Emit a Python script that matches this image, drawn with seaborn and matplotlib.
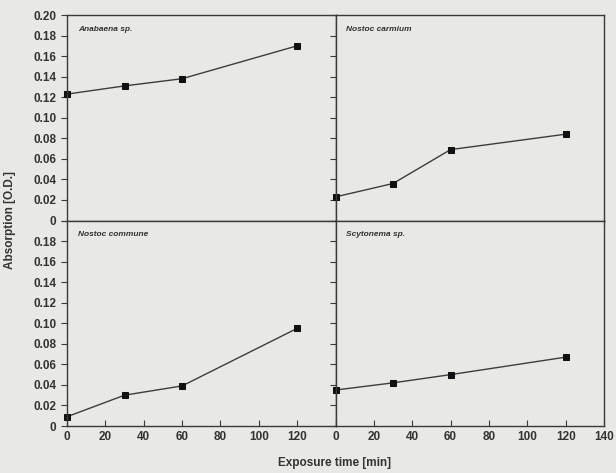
import matplotlib
matplotlib.use("Agg")
import matplotlib.pyplot as plt
import seaborn as sns
import pandas as pd

# Exposure times (min) and absorption (O.D.) per species
times = [0, 30, 60, 120]
anabaena = [0.123, 0.131, 0.138, 0.170]
nostoc_carmium = [0.023, 0.036, 0.069, 0.084]
nostoc_commune = [0.009, 0.030, 0.039, 0.095]
scytonema = [0.035, 0.042, 0.050, 0.067]

species = ["Anabaena sp.", "Nostoc carmium", "Nostoc commune", "Scytonema sp."]
series = [anabaena, nostoc_carmium, nostoc_commune, scytonema]

rows = []
for name, vals in zip(species, series):
    for t, v in zip(times, vals):
        rows.append({"species": name, "time": t, "absorption": v})
df = pd.DataFrame(rows)

sns.set_theme(style="ticks")
bg = "#e8e8e4"
plt.rcParams.update({
    "font.family": ["Liberation Sans", "DejaVu Sans"],
    "axes.facecolor": bg,
    "figure.facecolor": bg,
    "axes.edgecolor": "#3a3a3a",
    "axes.linewidth": 1.0,
    "xtick.color": "#3a3a3a",
    "ytick.color": "#3a3a3a",
})

fig, axes = plt.subplots(2, 2, figsize=(6.16, 4.73), dpi=100)
fig.subplots_adjust(left=67 / 616, right=604 / 616, top=1 - 15 / 473,
                    bottom=1 - 426 / 473, wspace=0, hspace=0)

yticks = [0, 0.02, 0.04, 0.06, 0.08, 0.10, 0.12, 0.14, 0.16, 0.18, 0.20]
xticks = [0, 20, 40, 60, 80, 100, 120, 140]

for ax, name in zip(axes.flat, species):
    sub = df[df["species"] == name]
    sns.lineplot(data=sub, x="time", y="absorption", ax=ax, color="#3c3c3c",
                 linewidth=1.0, marker="s", markersize=4.5,
                 markerfacecolor="#111111", markeredgecolor="#111111", clip_on=False)
    ax.set_xlim(0, 140)
    ax.set_ylim(0, 0.20)
    ax.set_xticks(xticks)
    ax.set_yticks(yticks)
    ax.set_xlabel("")
    ax.set_ylabel("")
    ax.text(0.04, 0.93, name, transform=ax.transAxes, fontsize=6,
            fontstyle="italic", fontweight="bold", color="#333333",
            ha="left", va="center")
    ax.tick_params(axis="y", direction="out", length=4, width=0.8)
    for s in ax.spines.values():
        s.set_visible(True)

ylab = ["0", "0.02", "0.04", "0.06", "0.08", "0.10", "0.12", "0.14", "0.16", "0.18", "0.20"]
lab_kw = dict(fontsize=8.5, fontweight="bold", color="#333333")

# Top row: ticks hanging below the shared border, no labels
for ax in axes[0]:
    ax.tick_params(axis="x", direction="out", length=4, width=0.8, labelbottom=False)

# Bottom row: inward ticks with labels
for ax in axes[1]:
    ax.tick_params(axis="x", direction="in", length=4, width=0.8, labelbottom=True)

axes[0, 0].set_yticklabels(ylab, **lab_kw)
axes[1, 0].set_yticklabels(ylab[:-1] + [""], **lab_kw)
axes[1, 0].set_xticklabels([str(x) for x in xticks[:-1]] + [""], **lab_kw)
axes[1, 1].set_xticklabels([str(x) for x in xticks], **lab_kw)
for ax in axes[:, 1]:
    ax.tick_params(axis="y", labelleft=False)

fig.text(0.016, (1 - 220 / 473), "Absorption [O.D.]", rotation=90, ha="center",
         va="center", fontsize=8.5, fontweight="bold", color="#333333")
fig.text(335 / 616, 1 - 463 / 473, "Exposure time [min]", ha="center", va="center",
         fontsize=8.5, fontweight="bold", color="#333333")

fig.savefig("out.png", dpi=100, facecolor=bg)
